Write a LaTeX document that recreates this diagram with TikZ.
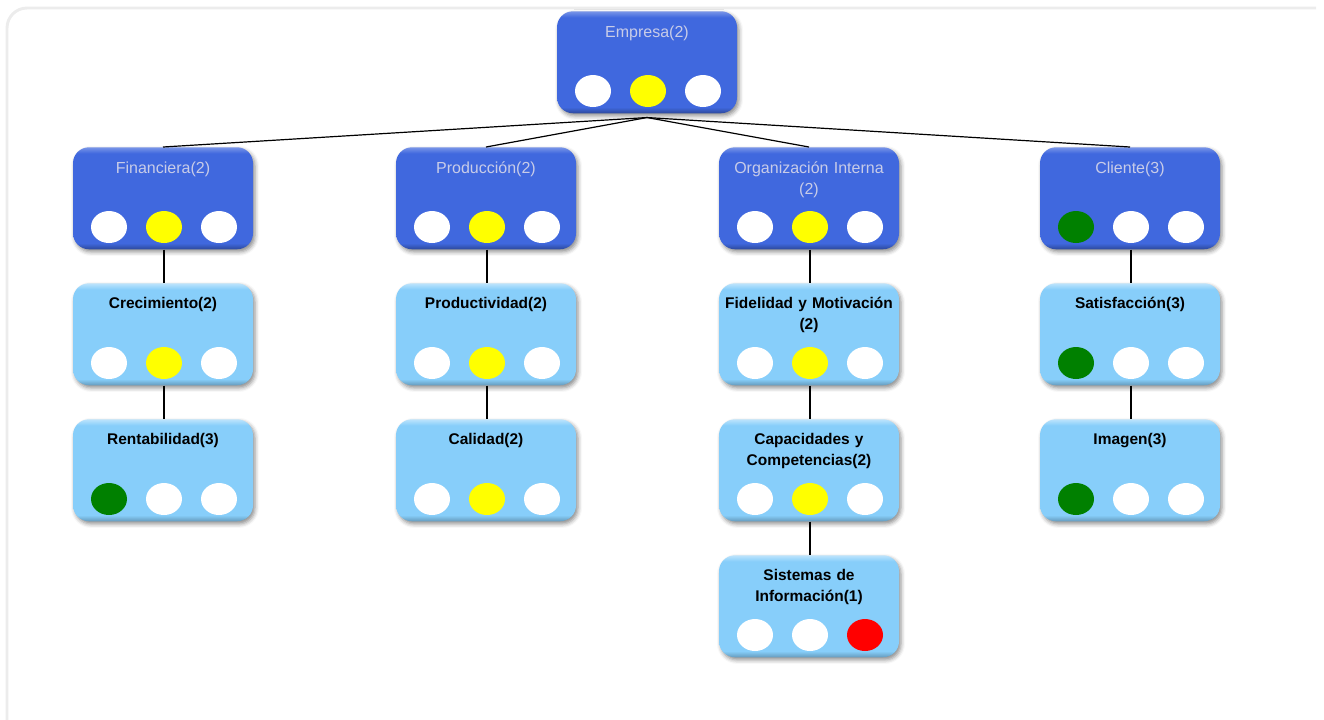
\documentclass[tikz,border=0pt]{standalone}
\usepackage{fontspec}
\setmainfont{Liberation Sans}
\usetikzlibrary{shapes.geometric,shadows.blur}

\definecolor{dkB}{RGB}{64,104,222}
\definecolor{ltB}{RGB}{135,206,250}
\definecolor{dkTitle}{RGB}{200,204,232}
\definecolor{ledGreen}{RGB}{0,128,0}
\definecolor{ledYellow}{RGB}{255,255,0}
\definecolor{ledRed}{RGB}{255,0,0}
\definecolor{panelLine}{RGB}{236,236,236}

% bevelled fills: darker bottom rim, lighter top rim
\pgfdeclareverticalshading{darkbevel}{100bp}{color(0bp)=(dkB!70!black); color(25bp)=(dkB!70!black);
  color(28bp)=(dkB); color(72bp)=(dkB); color(75bp)=(dkB!70!white); color(100bp)=(dkB!70!white)}
\pgfdeclareverticalshading{lightbevel}{100bp}{color(0bp)=(ltB!75!black); color(25bp)=(ltB!75!black);
  color(28bp)=(ltB); color(72bp)=(ltB); color(75bp)=(ltB!55!white); color(100bp)=(ltB!55!white)}

\tikzset{
  cardbase/.style={rounded corners=12pt, minimum width=135pt, minimum height=76.5pt,
    inner sep=0pt, draw=none, anchor=north,
    blur shadow={shadow xshift=1.5pt, shadow yshift=-2pt, shadow blur radius=3pt, shadow opacity=45}},
  darkcard/.style={cardbase, shading=darkbevel},
  lightcard/.style={cardbase, shading=lightbevel},
  cardtitle/.style={anchor=north, inner sep=0pt, text width=130pt, align=center},
  darkcardtitle/.style={cardtitle, text height=8.6pt,
    text=dkTitle, font=\fontsize{12}{15.75}\selectfont},
  lightcardtitle/.style={cardtitle, text height=8.4pt,
    text=black, font=\fontsize{11.6}{15.75}\selectfont\bfseries},
  led/.style={ellipse, draw=none, inner sep=0pt, minimum width=27pt, minimum height=24pt},
  link/.style={draw=black, line width=0.9pt}
}

% #1 name, #2 centre x, #3 top y, #4 card kind (dark/light), #5 title, #6-#8 lamp colours
\newcommand\tarjeta[8]{%
  \node[#4card] (#1) at (#2-1,#3) {};
  \node[#4cardtitle] (#1-t) at (#2-1,#3+14.3) {#5};
  \node[led, fill=#6] (#1-a) at (#2-55,#3+80) {};
  \node[led, fill=#7] (#1-b) at (#2,#3+80) {};
  \node[led, fill=#8] (#1-c) at (#2+55,#3+80) {};
}

\begin{document}
\begin{tikzpicture}[x=0.75pt,y=-0.75pt]
\useasboundingbox (0,0) rectangle (1324,719);

% outer panel frame
\draw[panelLine, line width=2.2pt, rounded corners=15pt] (7,740) |- (1316,8);

% top level
\tarjeta{emp}{648}{11}{dark}{Empresa(2)}{white}{ledYellow}{white}

% perspectives
\tarjeta{fin}{164}{147}{dark}{Financiera(2)}{white}{ledYellow}{white}
\tarjeta{pro}{487}{147}{dark}{Producción(2)}{white}{ledYellow}{white}
\tarjeta{org}{810}{147}{dark}{Organización Interna\\(2)}{white}{ledYellow}{white}
\tarjeta{cli}{1131}{147}{dark}{Cliente(3)}{ledGreen}{white}{white}

% objectives
\tarjeta{cre}{164}{283}{light}{Crecimiento(2)}{white}{ledYellow}{white}
\tarjeta{ren}{164}{419}{light}{Rentabilidad(3)}{ledGreen}{white}{white}

\tarjeta{prd}{487}{283}{light}{Productividad(2)}{white}{ledYellow}{white}
\tarjeta{cal}{487}{419}{light}{Calidad(2)}{white}{ledYellow}{white}

\tarjeta{fid}{810}{283}{light}{Fidelidad y Motivación\\(2)}{white}{ledYellow}{white}
\tarjeta{cap}{810}{419}{light}{Capacidades y\\Competencias(2)}{white}{ledYellow}{white}
\tarjeta{sis}{810}{555}{light}{Sistemas de\\Información(1)}{white}{white}{ledRed}

\tarjeta{sat}{1131}{283}{light}{Satisfacción(3)}{ledGreen}{white}{white}
\tarjeta{ima}{1131}{419}{light}{Imagen(3)}{ledGreen}{white}{white}

% connectors
\foreach \c in {fin,pro,org,cli}
  \draw[link] ([yshift=-3pt]emp.south) -- (\c.north);
\foreach \u/\l in {fin/cre,cre/ren,pro/prd,prd/cal,org/fid,fid/cap,cap/sis,cli/sat,sat/ima}
  \draw[link] (\u-b |- \u.south) -- (\l-b |- \l.north);
\end{tikzpicture}
\end{document}
